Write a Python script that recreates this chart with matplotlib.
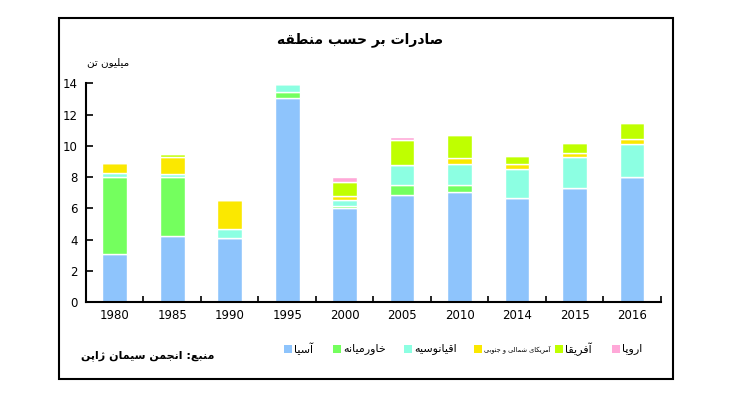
import matplotlib
matplotlib.use("Agg")
import matplotlib.pyplot as plt
import numpy as np
from matplotlib.patches import Rectangle

# data (million tonnes)
years = ['1980', '1985', '1990', '1995', '2000', '2005', '2010', '2014', '2015', '2016']
asia = [3.05, 4.2, 4.08, 13.08, 6.0, 6.83, 7.02, 6.64, 7.28, 7.98]
middle_east = [4.97, 3.82, 0, 0.38, 0.17, 0.64, 0.45, 0, 0, 0]
oceania = [0.26, 0.19, 0.57, 0.52, 0.34, 1.28, 1.35, 1.86, 1.98, 2.12]
americas = [0.64, 1.05, 1.9, 0, 0.26, 0, 0.38, 0.32, 0.26, 0.32]
africa = [0, 0.23, 0, 0, 0.89, 1.64, 1.51, 0.55, 0.68, 1.06]
europe = [0, 0, 0, 0, 0.34, 0.19, 0, 0, 0, 0]

region_names = ['آسیا', 'خاورمیانه', 'اقیانوسیه', 'آمریکای شمالی و جنوبی', 'آفریقا', 'اروپا']
colors = ['#8ec4fc', '#74ff5e', '#8cffe2', '#fbe800', '#bfff00', '#ffa8d8']

title = 'صادرات بر حسب منطقه'
unit = 'میلیون تن'
source = 'منبع: انجمن سیمان ژاپن'

# matplotlib has no arabic shaping, so pick presentation forms by hand
# (isolated, final, initial, medial)
FORMS = {
    'ا': ('\uFE8D', '\uFE8E', None, None),
    'آ': ('\uFE81', '\uFE82', None, None),
    'ب': ('\uFE8F', '\uFE90', '\uFE91', '\uFE92'),
    'پ': ('\uFB56', '\uFB57', '\uFB58', '\uFB59'),
    'ت': ('\uFE95', '\uFE96', '\uFE97', '\uFE98'),
    'ج': ('\uFE9D', '\uFE9E', '\uFE9F', '\uFEA0'),
    'ح': ('\uFEA1', '\uFEA2', '\uFEA3', '\uFEA4'),
    'خ': ('\uFEA5', '\uFEA6', '\uFEA7', '\uFEA8'),
    'د': ('\uFEA9', '\uFEAA', None, None),
    'ر': ('\uFEAD', '\uFEAE', None, None),
    'ژ': ('\uFB8A', '\uFB8B', None, None),
    'س': ('\uFEB1', '\uFEB2', '\uFEB3', '\uFEB4'),
    'ش': ('\uFEB5', '\uFEB6', '\uFEB7', '\uFEB8'),
    'ص': ('\uFEB9', '\uFEBA', '\uFEBB', '\uFEBC'),
    'ط': ('\uFEC1', '\uFEC2', '\uFEC3', '\uFEC4'),
    'ع': ('\uFEC9', '\uFECA', '\uFECB', '\uFECC'),
    'ف': ('\uFED1', '\uFED2', '\uFED3', '\uFED4'),
    'ق': ('\uFED5', '\uFED6', '\uFED7', '\uFED8'),
    'ک': ('\uFB8E', '\uFB8F', '\uFB90', '\uFB91'),
    'ل': ('\uFEDD', '\uFEDE', '\uFEDF', '\uFEE0'),
    'م': ('\uFEE1', '\uFEE2', '\uFEE3', '\uFEE4'),
    'ن': ('\uFEE5', '\uFEE6', '\uFEE7', '\uFEE8'),
    'ه': ('\uFEE9', '\uFEEA', '\uFEEB', '\uFEEC'),
    'و': ('\uFEED', '\uFEEE', None, None),
    'ی': ('\uFBFC', '\uFBFD', '\uFBFE', '\uFBFF'),
}


def shape(text):
    out = []
    for i, ch in enumerate(text):
        f = FORMS.get(ch)
        if f is None:
            out.append(ch)
            continue
        prev = FORMS.get(text[i - 1]) if i > 0 else None
        nxt = FORMS.get(text[i + 1]) if i < len(text) - 1 else None
        jp = prev is not None and prev[2] is not None
        jn = nxt is not None and f[2] is not None
        if jp and jn:
            out.append(f[3])
        elif jp:
            out.append(f[1])
        elif jn:
            out.append(f[2])
        else:
            out.append(f[0])
    return ''.join(reversed(out))


plt.rcParams['font.family'] = ['DejaVu Sans']

fig = plt.figure(figsize=(7.5, 4), dpi=100)
ax = fig.add_axes([0.1147, 0.245, 0.881 - 0.1147, 0.7918 - 0.245])

series = [asia, middle_east, oceania, americas, africa, europe]
x = np.arange(len(years))
bottom = np.zeros(len(years))
for vals, col in zip(series, colors):
    ax.bar(x, vals, width=0.43, bottom=bottom, color=col, edgecolor='white', linewidth=1.0)
    bottom += np.array(vals)

ax.set_xlim(-0.5, len(years) - 0.5)
ax.set_ylim(0, 14)
ax.set_yticks(range(0, 15, 2))
ax.tick_params(axis='y', direction='in', length=5, width=1.2, labelsize=8.5, pad=6)
ax.set_xticks(np.arange(0.5, len(years), 1))
ax.set_xticklabels([])
ax.set_xticks(x, minor=True)
ax.set_xticklabels(years, minor=True)
ax.tick_params(axis='x', which='major', direction='in', length=4, width=1.2)
ax.tick_params(axis='x', which='minor', length=0, labelsize=8.5, pad=5)
for s in ['top', 'right']:
    ax.spines[s].set_visible(False)
for s in ['left', 'bottom']:
    ax.spines[s].set_linewidth(1.5)

# outer frame
fig.patches.append(Rectangle((0.0793, 0.0525), 0.897 - 0.0793, 0.955 - 0.0525,
                             transform=fig.transFigure, fill=False, edgecolor='black', linewidth=1.5))

fig.text(0.48, 0.902, shape(title), ha='center', va='center', fontsize=10, fontweight='bold')
fig.text(0.144, 0.845, shape(unit), ha='center', va='center', fontsize=7.5)
fig.text(0.197, 0.112, shape(source), ha='center', va='center', fontsize=8, fontweight='bold')

# legend: square then label
sq_x = [284, 333, 404, 474, 555, 612]
for px, name, col in zip(sq_x, region_names, colors):
    fs = 4.8 if len(name) > 12 else 8
    fig.patches.append(Rectangle((px / 750, 1 - 353 / 400), 8 / 750, 8 / 400,
                                 transform=fig.transFigure, facecolor=col, edgecolor='none'))
    fig.text((px + 10) / 750, 1 - 349 / 400, shape(name), ha='left', va='center', fontsize=fs)

fig.savefig('out.png', dpi=100)
